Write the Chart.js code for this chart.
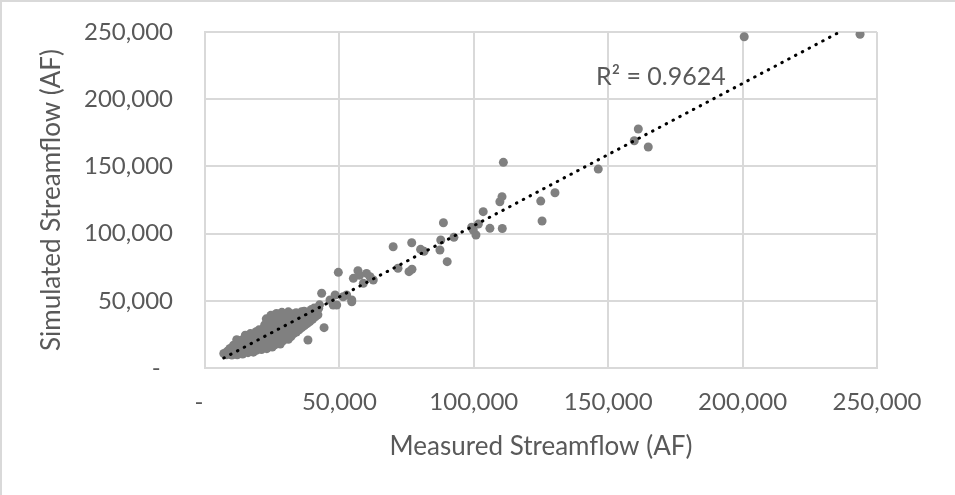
<!DOCTYPE html>
<html>
<head>
<meta charset="utf-8">
<script src="https://cdn.jsdelivr.net/npm/chart.js@4/dist/chart.umd.min.js"></script>
<style>
  html, body { margin: 0; padding: 0; background: #fff; }
  #wrap { width: 955px; height: 495px; }
</style>
</head>
<body>
<div id="wrap"><canvas id="flow" width="955" height="495"></canvas></div>
<script>
// measured vs simulated streamflow, acre-feet, as [measured, simulated]
const lowFlows = [
  [7000,10800],[8000,9800],[8300,12400],[9000,11000],[9300,14600],[10000,9600],[10200,13000],[10600,17000],
  [11000,10800],[11300,15000],[12000,9800],[12100,12800],[12400,17200],[12700,19600],[13000,11200],[13200,15200],
  [13500,20600],[14000,10400],[14100,13400],[14400,17800],[14700,21400],[15000,12200],[15200,16000],[15500,20000],
  [15800,23600],[16000,11400],[16100,14200],[16300,18400],[16600,22400],[16900,25600],[17000,12800],[17200,16600],
  [17500,20600],[17800,24800],[18000,11800],[18200,14400],[18400,18800],[18700,23000],[19000,27000],[19100,13200],
  [19300,17000],[19600,21200],[19800,25200],[20100,28400],[20000,14800],[20300,19200],[20600,23400],[20900,27400],
  [21000,13800],[21200,17400],[21400,21600],[21700,25800],[21900,29800],[22200,32000],[22000,15400],[22300,19800],
  [22600,24000],[22800,28200],[23000,33200],[23000,14400],[23200,18000],[23400,22200],[23600,26400],[23800,30600],
  [24000,35400],[24000,16200],[24200,20400],[24400,24600],[24600,28800],[24800,33000],[25000,37800],[25000,15600],
  [25100,18600],[25300,22800],[25500,27000],[25700,31200],[25900,35400],[26100,38600],[26000,17200],[26200,21000],
  [26400,25200],[26600,29400],[26800,33600],[27000,37600],[27000,18800],[27200,23200],[27400,27400],[27600,31800],
  [27800,36000],[28000,39600],[28000,17800],[28200,21400],[28400,25600],[28600,29800],[28800,34000],[29000,38200],
  [29000,20200],[29200,24000],[29400,28200],[29600,32400],[29800,36600],[30000,39800],[30000,22200],[30300,26400],
  [30500,30600],[30700,34800],[30900,38800],[31000,21400],[31200,24800],[31400,29000],[31600,33200],[31800,37400],
  [32000,40400],[32000,23400],[32300,27600],[32500,31800],[32700,36000],[32900,40000],[33000,25600],[33300,29800],
  [33500,34200],[33700,38400],[33900,41200],[34000,26800],[34300,31000],[34600,35400],[34900,39600],[35000,28400],
  [35300,32600],[35600,36800],[35900,41800],[36000,30000],[36300,34200],[36600,38400],[36900,42200],[37000,31600],
  [37400,35800],[37700,40000],[38000,33000],[38300,37400],[38600,41800],[39000,34600],[39300,38800],[39600,43600],
  [40000,36200],[40300,40400],[40600,44600],[41000,38000],[41400,42200],[42000,39600],[42300,44400],[42600,47000],
  [22800,36600],[24500,39200],[26600,40600],[28600,41400],[31000,41800],[11800,21000],[15000,24400]
]

const midFlows = [
  [38300,20800],[44300,30000],[43400,55600],[46500,50600],[47700,46900],[49000,46900],[48400,54300],[51400,53000],
  [52700,54300],[54600,50600],[54600,49300],[49600,71200],[56900,72400],[57500,69000],[60100,70400],[61400,67900],
  [55200,66700],[58900,63000],[62600,65500],[70000,90200],[71800,74200],[75900,71700],[77000,73500],[76900,93200],
  [80200,88300],[81500,86800],[87400,87800],[87700,95200],[88700,108100],[90100,79100],[92600,97200]
]

const highFlows = [
  [99200,104700],[99800,102700],[100800,99000],[101700,107100],[103500,116300],[106000,103900],[110600,103800],
  [109700,123700],[110500,127500],[111000,153000],[124900,124200],[125400,109400],[130200,130400],[146300,148000],
  [159700,169100],[161200,177800],[164900,164400],[200600,246500],[243700,248300]
]

const rSquaredLabel = 'R² = 0.9624'
const axisTicks = [0, 50000, 100000, 150000, 200000, 250000]

const allFlows = lowFlows.concat(midFlows, highFlows)
const points = allFlows.map(([x, y]) => ({ x, y }))

// least-squares linear trend over every point
const n = allFlows.length
const mx = allFlows.reduce((s, p) => s + p[0], 0) / n
const my = allFlows.reduce((s, p) => s + p[1], 0) / n
let sxy = 0, sxx = 0
allFlows.forEach(([x, y]) => { sxy += (x - mx) * (y - my); sxx += (x - mx) * (x - mx) })
const slope = sxy / sxx
const intercept = my - slope * mx
const xs = allFlows.map(p => p[0])
const xMin = Math.min(...xs), xMax = Math.max(...xs)
const trend = [xMin, xMax].map(x => ({ x, y: intercept + slope * x }))

const FONT = 'Lato, sans-serif'
const TEXT = '#595959'
const GRID = '#d9d9d9'

const fmt = v => (v === 0 ? '-  ' : v.toLocaleString('en-US'))

const decorations = {
  id: 'decorations',
  beforeDraw(chart) {
    const { ctx } = chart
    ctx.save()
    ctx.strokeStyle = GRID
    ctx.lineWidth = 2
    ctx.beginPath()
    ctx.moveTo(1, 495)
    ctx.lineTo(1, 1)
    ctx.lineTo(955, 1)
    ctx.stroke()
    ctx.restore()
  },
  afterDraw(chart) {
    const { ctx, chartArea } = chart
    ctx.save()
    ctx.fillStyle = TEXT
    ctx.font = '26px ' + FONT
    ctx.textAlign = 'center'
    ctx.textBaseline = 'middle'
    ctx.fillText('Measured Streamflow (AF)', (chartArea.left + chartArea.right) / 2, 447)
    ctx.translate(52, (chartArea.top + chartArea.bottom) / 2)
    ctx.rotate(-Math.PI / 2)
    ctx.fillText('Simulated Streamflow (AF)', 0, 0)
    ctx.restore()

    ctx.save()
    ctx.fillStyle = TEXT
    ctx.font = '25px ' + FONT
    ctx.textAlign = 'left'
    ctx.textBaseline = 'alphabetic'
    ctx.fillText(rSquaredLabel, 596, 85)
    ctx.restore()
  }
}

new Chart(document.getElementById('flow'), {
  type: 'scatter',
  plugins: [decorations],
  data: {
    datasets: [
      {
        type: 'line',
        data: trend,
        order: 0,
        borderColor: '#000',
        borderWidth: 3,
        borderDash: [0.5, 7.2],
        borderCapStyle: 'round',
        pointRadius: 0,
        fill: false
      },
      {
        data: points,
        order: 1,
        backgroundColor: '#808080',
        borderWidth: 0,
        pointRadius: 4.5
      }
    ]
  },
  options: {
    responsive: false,
    animation: false,
    events: [],
    layout: { padding: { top: 32, right: 78, left: 0, bottom: 0 } },
    plugins: { legend: { display: false }, tooltip: { enabled: false } },
    scales: {
      x: {
        type: 'linear',
        min: 0,
        max: 250000,
        afterFit(scale) { scale.height = 127 },
        afterBuildTicks(scale) { scale.ticks = axisTicks.map(value => ({ value })) },
        grid: { color: GRID, lineWidth: 2, drawTicks: false },
        border: { color: GRID, width: 2 },
        ticks: { callback: fmt, color: TEXT, font: { family: FONT, size: 24 }, padding: 20, maxRotation: 0 }
      },
      y: {
        type: 'linear',
        min: 0,
        max: 250000,
        afterFit(scale) {
          scale.width = 205
          scale.paddingTop = 0
          scale.paddingBottom = 0
        },
        afterBuildTicks(scale) { scale.ticks = axisTicks.map(value => ({ value })) },
        grid: { color: GRID, lineWidth: 2, drawTicks: false },
        border: { color: GRID, width: 2 },
        ticks: { callback: fmt, color: TEXT, font: { family: FONT, size: 24 }, padding: 32 }
      }
    }
  }
})
</script>
</body>
</html>
